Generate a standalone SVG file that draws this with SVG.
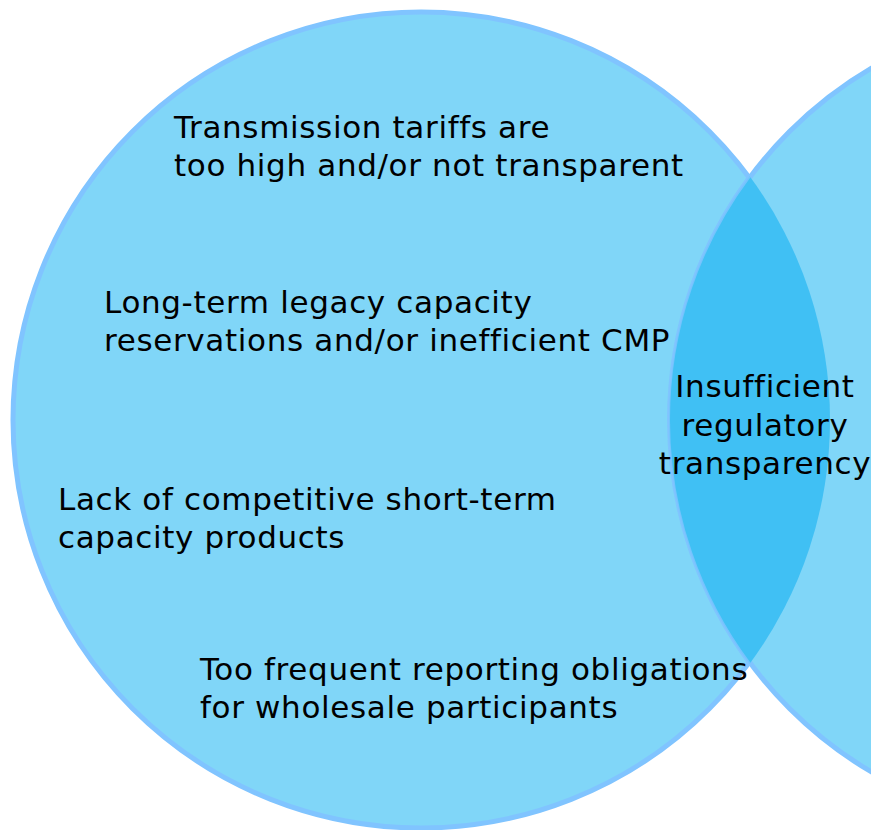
<svg xmlns="http://www.w3.org/2000/svg" width="871" height="830" viewBox="0 0 871 830">
<style>
.c{fill:#80D6F8;stroke:#80C4FF;stroke-width:5}
.lens{fill:#40C0F4}
text{font-family:"DejaVu Sans","Verdana",sans-serif;font-size:31px;fill:#000;letter-spacing:0.65px}
.m{text-anchor:middle}
</style>
<rect width="871" height="830" fill="#fff"/>
<g id="circle-left"><circle class="c" cx="421" cy="420" r="408"/></g>
<g id="circle-right"><circle class="c" cx="1078" cy="420" r="408"/></g>
<g id="intersection">
<path class="lens" d="M749.5,176 A410,410 0 0 1 749.5,664 A410,410 0 0 1 749.5,176 Z"/>
<path d="M749.5,176 A408,408 0 0 0 749.5,664" fill="none" stroke="#80C4FF" stroke-width="3" opacity="0.8"/>
<text class="m" x="765" y="397">Insufficient</text>
<text class="m" x="765" y="436">regulatory </text>
<text class="m" x="765" y="474">transparency</text>
</g>
<g id="t1"><text x="174" y="138">Transmission tariffs are</text><text x="174" y="176">too high and/or not transparent</text></g>
<g id="t2"><text x="104" y="313">Long-term legacy capacity</text><text x="104" y="351">reservations and/or inefficient CMP</text></g>
<g id="t3"><text x="58" y="510">Lack of competitive short-term</text><text x="58" y="548">capacity products</text></g>
<g id="t4"><text x="200" y="680">Too frequent reporting obligations</text><text x="200" y="718">for wholesale participants</text></g>
<g id="connectors"/>
</svg>
